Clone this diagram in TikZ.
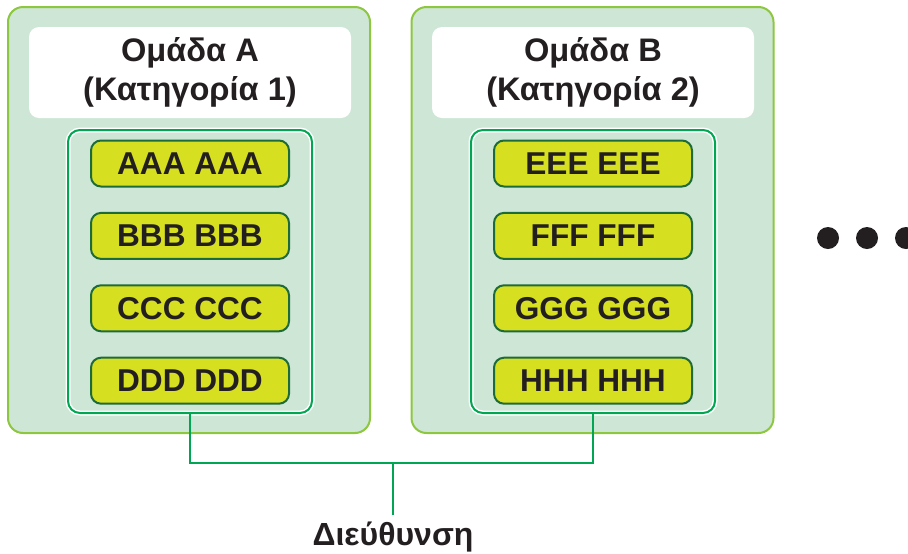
\documentclass[tikz,border=0pt]{standalone}
\usepackage{fontspec}
\setmainfont{Liberation Sans}
\usetikzlibrary{positioning}

\definecolor{groupfill}{HTML}{CDE6D5}
\definecolor{groupline}{HTML}{8DC63F}
\definecolor{listline}{HTML}{00A651}
\definecolor{itemfill}{HTML}{D7DF21}
\definecolor{itemline}{HTML}{1E6B3A}
\definecolor{ink}{HTML}{231F20}

\tikzset{
  group/.style={draw=groupline, fill=groupfill, line width=1pt, rounded corners=7.5pt,
    minimum width=181pt, minimum height=213pt},
  title/.style={fill=white, rounded corners=5pt, minimum width=161pt, minimum height=45.5pt,
    align=center, text=ink, font=\bfseries\fontsize{16.3}{19.5}\selectfont},
  list/.style={draw=listline, line width=1pt, rounded corners=6pt,
    preaction={draw=white, line width=2.5pt},
    minimum width=122pt, minimum height=141.5pt},
  item/.style={draw=itemline, fill=itemfill, line width=1pt, rounded corners=5pt,
    minimum width=99pt, minimum height=23pt, text=ink,
    font=\bfseries\fontsize{15.8}{17}\selectfont},
  link/.style={draw=listline, line width=1pt},
}

\begin{document}
\begin{tikzpicture}[x=0.5pt, y=-0.5pt]
  \useasboundingbox (0,0) rectangle (908,553);
  % Groups.
  \node[group] (groupA) at (189,220) {};
  \node[group] (groupB) at (592.5,220) {};
  \node[title] (titleA) at (190,72.5) {Ομάδα A\\(Κατηγορία 1)};
  \node[title] (titleB) at (593,72.5) {Ομάδα B\\(Κατηγορία 2)};
  \node[list] (listA) at (190,271.5) {};
  \node[list] (listB) at (593,271.5) {};
  % Items of each group.
  \foreach \t [count=\i] in {AAA AAA,BBB BBB,CCC CCC,DDD DDD} {
    \node[item] (itemA\i) at (190,{163.5+72.4*(\i-1)}) {\t};
  }
  \foreach \t [count=\i] in {EEE EEE,FFF FFF,GGG GGG,HHH HHH} {
    \node[item] (itemB\i) at (593,{163.5+72.4*(\i-1)}) {\t};
  }
  % More groups.
  \foreach \x in {828,867,906} {
    \fill[ink] (\x,238) circle (11);
  }
  % Management.
  \coordinate (join) at (393,463);
  \node[text=ink, font=\bfseries\fontsize{16}{17}\selectfont] (dir) at (393,537) {Διεύθυνση};
  \draw[link] (listA.south) |- (join) -| (listB.south);
  \draw[link] (join) -- (dir.north);
\end{tikzpicture}
\end{document}
